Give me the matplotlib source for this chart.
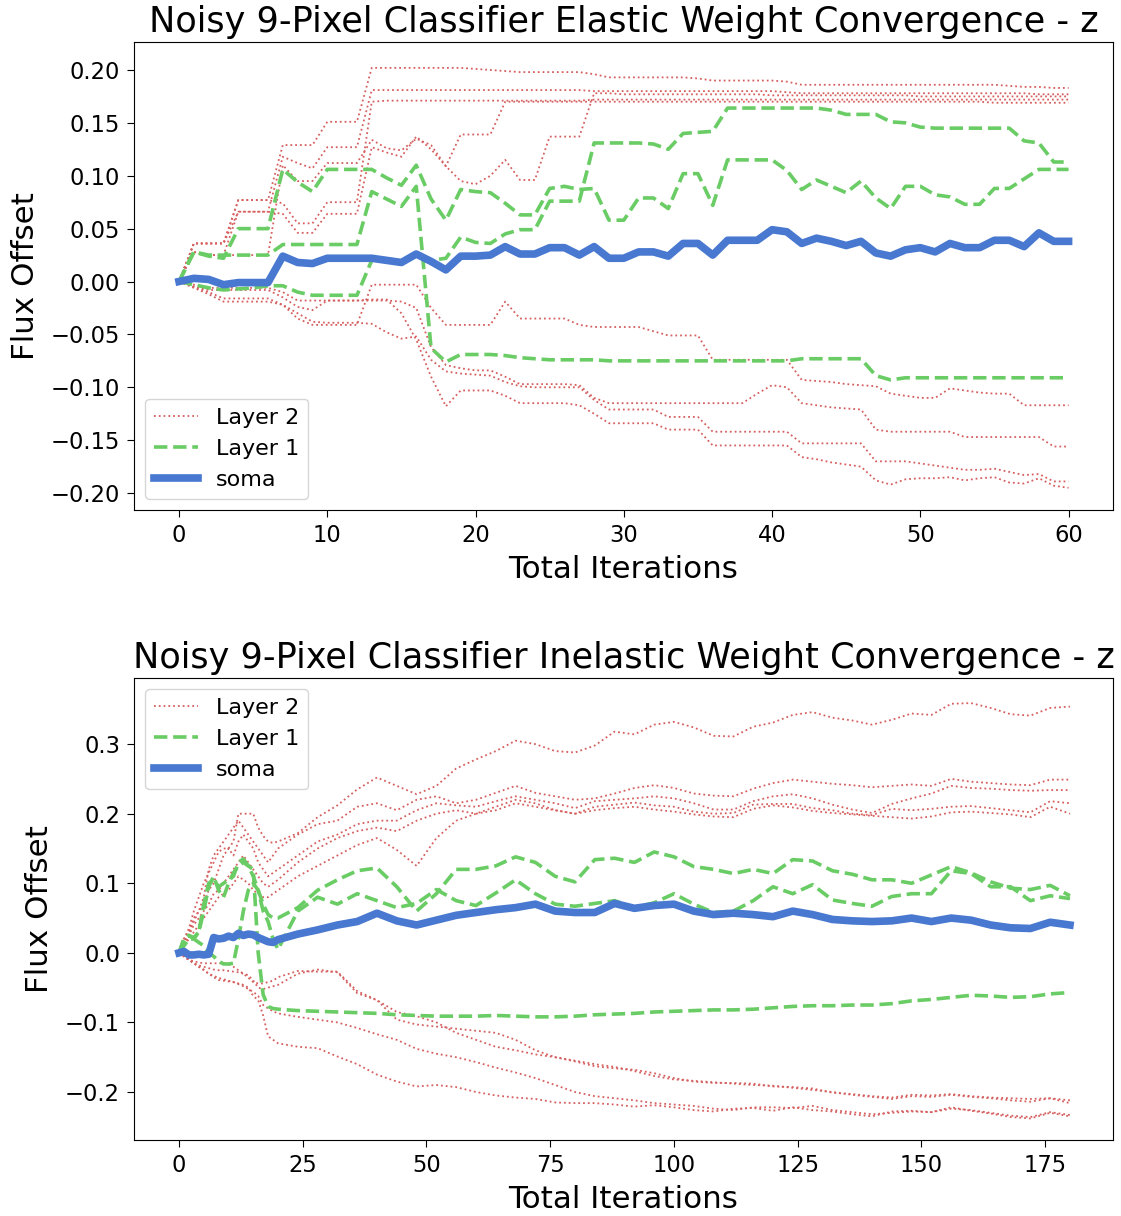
"""
Two-panel weight convergence chart for the noisy 9-pixel classifier.
Top: elastic run (61 iterations), bottom: inelastic run (sampled iterations).
"""

import matplotlib
matplotlib.use("Agg")
import matplotlib.pyplot as plt  # noqa: E402

RED = "#d65f5f"
GREEN = "#6acc64"
BLUE = "#4878d0"

# ---------------- top panel: elastic ----------------
top_iters = list(range(61))

top_soma = [
    0.000, 0.003, 0.002, -0.003, -0.001, -0.001, -0.001, 0.024, 0.018, 0.017,
    0.022, 0.022, 0.022, 0.022, 0.020, 0.018, 0.026, 0.019, 0.011, 0.024,
    0.024, 0.025, 0.033, 0.026, 0.026, 0.032, 0.032, 0.025, 0.033, 0.022,
    0.022, 0.028, 0.028, 0.024, 0.036, 0.036, 0.025, 0.039, 0.039, 0.039,
    0.049, 0.047, 0.036, 0.041, 0.038, 0.034, 0.038, 0.027, 0.024, 0.030,
    0.032, 0.028, 0.036, 0.032, 0.032, 0.039, 0.039, 0.033, 0.046, 0.038, 0.038,
]

top_layer1 = [
    [0.000, 0.028, 0.024, 0.022, 0.050, 0.050, 0.050, 0.106, 0.094, 0.085,
     0.106, 0.106, 0.106, 0.106, 0.098, 0.091, 0.110, 0.078, 0.058, 0.087,
     0.085, 0.084, 0.074, 0.063, 0.063, 0.088, 0.090, 0.087, 0.088, 0.058,
     0.058, 0.079, 0.079, 0.069, 0.102, 0.102, 0.072, 0.115, 0.115, 0.115,
     0.115, 0.105, 0.087, 0.096, 0.090, 0.084, 0.095, 0.079, 0.069, 0.090,
     0.090, 0.082, 0.080, 0.073, 0.073, 0.088, 0.088, 0.097, 0.106, 0.106, 0.106],
    [0.000, 0.028, 0.025, 0.025, 0.025, 0.025, 0.025, 0.035, 0.035, 0.035,
     0.035, 0.035, 0.035, 0.085, 0.078, 0.071, 0.090, -0.063, -0.076, -0.069,
     -0.069, -0.069, -0.070, -0.072, -0.073, -0.074, -0.074, -0.074, -0.074, -0.075,
     -0.075, -0.075, -0.075, -0.075, -0.075, -0.075, -0.075, -0.075, -0.075, -0.075,
     -0.075, -0.075, -0.073, -0.073, -0.073, -0.073, -0.073, -0.089, -0.093, -0.091,
     -0.091, -0.091, -0.091, -0.091, -0.091, -0.091, -0.091, -0.091, -0.091, -0.091, -0.091],
    [0.000, -0.003, -0.006, -0.008, -0.007, -0.006, -0.004, -0.004, -0.010, -0.013,
     -0.013, -0.013, -0.013, 0.020, 0.021, 0.020, 0.024, 0.020, 0.022, 0.042,
     0.037, 0.036, 0.045, 0.049, 0.049, 0.076, 0.076, 0.076, 0.131, 0.131,
     0.131, 0.131, 0.130, 0.125, 0.140, 0.141, 0.142, 0.164, 0.164, 0.164,
     0.164, 0.164, 0.164, 0.164, 0.162, 0.158, 0.158, 0.158, 0.151, 0.150,
     0.146, 0.145, 0.145, 0.145, 0.145, 0.145, 0.145, 0.133, 0.131, 0.113, 0.113],
]

top_layer2 = [
    [0.000, 0.036, 0.036, 0.036, 0.077, 0.077, 0.077, 0.129, 0.129, 0.129,
     0.151, 0.151, 0.151, 0.202, 0.202, 0.202, 0.202, 0.202, 0.202, 0.202,
     0.201, 0.200, 0.199, 0.198, 0.198, 0.198, 0.198, 0.198, 0.196, 0.193,
     0.193, 0.193, 0.193, 0.193, 0.193, 0.192, 0.190, 0.190, 0.190, 0.190,
     0.190, 0.189, 0.186, 0.186, 0.186, 0.186, 0.186, 0.186, 0.186, 0.186,
     0.186, 0.186, 0.186, 0.186, 0.186, 0.186, 0.185, 0.184, 0.184, 0.183, 0.183],
    [0.000, 0.036, 0.036, 0.036, 0.066, 0.066, 0.066, 0.118, 0.112, 0.107,
     0.127, 0.127, 0.127, 0.181, 0.181, 0.181, 0.181, 0.181, 0.181, 0.181,
     0.181, 0.181, 0.181, 0.181, 0.181, 0.181, 0.181, 0.181, 0.180, 0.180,
     0.180, 0.180, 0.180, 0.180, 0.180, 0.180, 0.180, 0.180, 0.180, 0.180,
     0.180, 0.179, 0.178, 0.178, 0.178, 0.178, 0.178, 0.178, 0.178, 0.178,
     0.178, 0.178, 0.178, 0.178, 0.178, 0.178, 0.178, 0.178, 0.177, 0.177, 0.177],
    [0.000, 0.036, 0.036, 0.036, 0.077, 0.077, 0.077, 0.074, 0.055, 0.055,
     0.075, 0.075, 0.075, 0.170, 0.171, 0.171, 0.171, 0.171, 0.171, 0.171,
     0.171, 0.171, 0.171, 0.171, 0.171, 0.171, 0.171, 0.171, 0.172, 0.172,
     0.172, 0.172, 0.172, 0.172, 0.172, 0.172, 0.172, 0.172, 0.172, 0.172,
     0.172, 0.172, 0.172, 0.172, 0.172, 0.172, 0.172, 0.172, 0.172, 0.172,
     0.172, 0.172, 0.172, 0.172, 0.172, 0.172, 0.172, 0.172, 0.172, 0.172, 0.172],
    [0.000, 0.028, 0.025, 0.025, 0.066, 0.066, 0.066, 0.064, 0.046, 0.046,
     0.064, 0.064, 0.064, 0.127, 0.122, 0.118, 0.137, 0.125, 0.109, 0.139,
     0.139, 0.139, 0.170, 0.170, 0.170, 0.170, 0.170, 0.170, 0.170, 0.170,
     0.170, 0.170, 0.170, 0.170, 0.170, 0.170, 0.170, 0.170, 0.170, 0.170,
     0.170, 0.170, 0.170, 0.170, 0.170, 0.170, 0.170, 0.170, 0.170, 0.170,
     0.170, 0.170, 0.170, 0.170, 0.170, 0.169, 0.169, 0.169, 0.169, 0.169, 0.169],
    [0.000, 0.028, 0.025, 0.025, 0.025, 0.025, 0.025, 0.110, 0.095, 0.095,
     0.112, 0.112, 0.112, 0.134, 0.126, 0.124, 0.135, 0.129, 0.109, 0.095,
     0.092, 0.100, 0.115, 0.096, 0.096, 0.137, 0.137, 0.137, 0.178, 0.178,
     0.177, 0.177, 0.177, 0.177, 0.177, 0.177, 0.177, 0.177, 0.177, 0.177,
     0.176, 0.176, 0.176, 0.176, 0.176, 0.176, 0.176, 0.176, 0.176, 0.176,
     0.175, 0.175, 0.175, 0.175, 0.175, 0.175, 0.175, 0.175, 0.175, 0.175, 0.175],
    [0.000, -0.005, -0.010, -0.016, -0.016, -0.016, -0.016, -0.022, -0.035, -0.041,
     -0.041, -0.041, -0.041, -0.003, -0.003, -0.003, -0.003, -0.025, -0.041, -0.041,
     -0.041, -0.041, -0.019, -0.035, -0.035, -0.035, -0.035, -0.041, -0.043, -0.043,
     -0.043, -0.043, -0.047, -0.051, -0.051, -0.051, -0.074, -0.074, -0.074, -0.074,
     -0.074, -0.074, -0.093, -0.094, -0.095, -0.097, -0.098, -0.099, -0.106, -0.108,
     -0.110, -0.110, -0.101, -0.103, -0.105, -0.106, -0.106, -0.117, -0.117, -0.117, -0.117],
    [0.000, -0.005, -0.008, -0.008, -0.008, -0.008, -0.008, -0.015, -0.024, -0.027,
     -0.018, -0.018, -0.018, -0.018, -0.018, -0.019, -0.025, -0.062, -0.079, -0.082,
     -0.084, -0.084, -0.090, -0.097, -0.097, -0.097, -0.097, -0.098, -0.110, -0.115,
     -0.115, -0.115, -0.115, -0.115, -0.115, -0.115, -0.115, -0.115, -0.115, -0.106,
     -0.098, -0.100, -0.115, -0.117, -0.119, -0.120, -0.121, -0.140, -0.142, -0.142,
     -0.142, -0.142, -0.142, -0.147, -0.147, -0.147, -0.147, -0.147, -0.147, -0.156, -0.156],
    [0.000, -0.006, -0.012, -0.019, -0.019, -0.019, -0.019, -0.022, -0.030, -0.038,
     -0.039, -0.039, -0.039, -0.040, -0.048, -0.054, -0.052, -0.074, -0.085, -0.087,
     -0.088, -0.089, -0.095, -0.099, -0.100, -0.100, -0.100, -0.100, -0.112, -0.121,
     -0.121, -0.121, -0.121, -0.128, -0.128, -0.128, -0.142, -0.142, -0.142, -0.142,
     -0.142, -0.142, -0.153, -0.153, -0.153, -0.153, -0.153, -0.170, -0.170, -0.170,
     -0.172, -0.174, -0.176, -0.178, -0.178, -0.177, -0.180, -0.183, -0.182, -0.189, -0.189],
    [0.000, -0.003, -0.006, -0.006, -0.006, -0.006, -0.006, -0.010, -0.018, -0.018,
     -0.018, -0.018, -0.018, -0.017, -0.017, -0.030, -0.055, -0.090, -0.118, -0.103,
     -0.103, -0.103, -0.108, -0.115, -0.115, -0.115, -0.115, -0.117, -0.125, -0.134,
     -0.134, -0.134, -0.134, -0.140, -0.140, -0.140, -0.155, -0.155, -0.155, -0.155,
     -0.155, -0.155, -0.166, -0.168, -0.171, -0.173, -0.175, -0.188, -0.192, -0.187,
     -0.186, -0.186, -0.185, -0.188, -0.186, -0.185, -0.190, -0.191, -0.186, -0.193, -0.195],
]

# ---------------- bottom panel: inelastic ----------------
# every iteration up to 20, then every 4th one
bot_iters = list(range(21)) + list(range(24, 181, 4))

bot_soma = [
    0.000, 0.002, -0.003, -0.003, -0.002, -0.003, -0.002, 0.022, 0.020, 0.021,
    0.024, 0.022, 0.028, 0.025, 0.027, 0.026, 0.022, 0.019, 0.016, 0.015, 0.019,
    0.027, 0.033, 0.040, 0.045, 0.057, 0.046, 0.040, 0.047, 0.054, 0.058,
    0.062, 0.065, 0.070, 0.060, 0.058, 0.058, 0.071, 0.064, 0.068, 0.070,
    0.060, 0.055, 0.057, 0.055, 0.052, 0.060, 0.055, 0.048, 0.046, 0.045,
    0.046, 0.050, 0.045, 0.050, 0.047, 0.040, 0.036, 0.035, 0.044, 0.040,
]

bot_layer1 = [
    [0.000, 0.020, 0.025, 0.022, 0.030, 0.060, 0.095, 0.110, 0.090, 0.080,
     0.100, 0.115, 0.125, 0.130, 0.125, 0.120, 0.000, -0.060, -0.077, -0.080, -0.081,
     -0.083, -0.084, -0.085, -0.086, -0.087, -0.089, -0.090, -0.091, -0.091, -0.091,
     -0.090, -0.091, -0.092, -0.092, -0.091, -0.089, -0.088, -0.087, -0.085, -0.084,
     -0.083, -0.082, -0.082, -0.081, -0.079, -0.077, -0.076, -0.076, -0.075, -0.075,
     -0.073, -0.069, -0.067, -0.064, -0.061, -0.062, -0.064, -0.063, -0.059, -0.057],
    [0.000, 0.020, 0.025, 0.020, 0.030, 0.070, 0.100, 0.105, 0.095, 0.100,
     0.105, 0.110, 0.130, 0.135, 0.125, 0.110, 0.090, 0.070, 0.055, 0.050, 0.050,
     0.065, 0.090, 0.105, 0.118, 0.122, 0.095, 0.060, 0.085, 0.120, 0.120,
     0.125, 0.138, 0.130, 0.110, 0.102, 0.134, 0.136, 0.130, 0.145, 0.138,
     0.124, 0.120, 0.114, 0.120, 0.114, 0.134, 0.132, 0.118, 0.113, 0.105,
     0.105, 0.100, 0.112, 0.124, 0.115, 0.102, 0.093, 0.091, 0.097, 0.082],
    [0.000, 0.010, 0.020, 0.020, 0.015, 0.010, 0.000, -0.005, -0.012, -0.016,
     -0.016, -0.015, 0.020, 0.060, 0.090, 0.100, 0.090, 0.060, 0.045, 0.020, 0.005,
     0.060, 0.080, 0.070, 0.085, 0.075, 0.065, 0.071, 0.091, 0.075, 0.068,
     0.086, 0.105, 0.085, 0.070, 0.067, 0.071, 0.075, 0.065, 0.072, 0.085,
     0.070, 0.058, 0.060, 0.075, 0.095, 0.085, 0.098, 0.076, 0.071, 0.067,
     0.081, 0.085, 0.085, 0.118, 0.114, 0.095, 0.095, 0.075, 0.082, 0.078],
]

bot_layer2 = [
    [0.000, 0.020, 0.035, 0.060, 0.080, 0.100, 0.115, 0.130, 0.145, 0.150,
     0.150, 0.160, 0.200, 0.200, 0.200, 0.200, 0.180, 0.168, 0.160, 0.158, 0.160,
     0.172, 0.195, 0.212, 0.235, 0.252, 0.240, 0.228, 0.240, 0.265, 0.278,
     0.290, 0.305, 0.300, 0.290, 0.288, 0.298, 0.318, 0.314, 0.328, 0.332,
     0.324, 0.312, 0.311, 0.325, 0.331, 0.342, 0.346, 0.338, 0.334, 0.328,
     0.335, 0.344, 0.342, 0.358, 0.359, 0.352, 0.343, 0.341, 0.352, 0.354],
    [0.000, 0.020, 0.030, 0.050, 0.060, 0.080, 0.120, 0.140, 0.150, 0.160,
     0.170, 0.180, 0.190, 0.180, 0.170, 0.160, 0.150, 0.140, 0.130, 0.140, 0.150,
     0.170, 0.185, 0.190, 0.210, 0.215, 0.205, 0.220, 0.225, 0.215, 0.220,
     0.230, 0.240, 0.230, 0.225, 0.220, 0.222, 0.229, 0.237, 0.241, 0.237,
     0.229, 0.226, 0.225, 0.236, 0.244, 0.249, 0.246, 0.243, 0.241, 0.238,
     0.240, 0.242, 0.240, 0.250, 0.246, 0.244, 0.242, 0.241, 0.249, 0.249],
    [0.000, 0.015, 0.030, 0.045, 0.060, 0.070, 0.090, 0.100, 0.120, 0.140,
     0.150, 0.140, 0.160, 0.170, 0.160, 0.150, 0.130, 0.120, 0.110, 0.115, 0.120,
     0.140, 0.160, 0.170, 0.185, 0.190, 0.190, 0.205, 0.215, 0.212, 0.210,
     0.218, 0.225, 0.220, 0.215, 0.208, 0.218, 0.220, 0.222, 0.225, 0.222,
     0.215, 0.206, 0.206, 0.218, 0.225, 0.228, 0.222, 0.213, 0.206, 0.201,
     0.214, 0.222, 0.229, 0.240, 0.237, 0.236, 0.234, 0.233, 0.234, 0.234],
    [0.000, 0.010, 0.025, 0.040, 0.050, 0.060, 0.070, 0.085, 0.090, 0.100,
     0.110, 0.120, 0.130, 0.140, 0.130, 0.120, 0.110, 0.100, 0.095, 0.100, 0.105,
     0.130, 0.150, 0.165, 0.175, 0.180, 0.175, 0.190, 0.200, 0.205, 0.200,
     0.205, 0.215, 0.210, 0.205, 0.200, 0.210, 0.213, 0.216, 0.212, 0.210,
     0.203, 0.200, 0.201, 0.213, 0.214, 0.214, 0.208, 0.205, 0.200, 0.198,
     0.207, 0.205, 0.207, 0.210, 0.211, 0.208, 0.205, 0.202, 0.218, 0.215],
    [0.000, 0.010, 0.020, 0.030, 0.040, 0.050, 0.060, 0.070, 0.080, 0.085,
     0.090, 0.100, 0.110, 0.105, 0.100, 0.090, 0.085, 0.080, 0.080, 0.085, 0.090,
     0.110, 0.125, 0.140, 0.155, 0.165, 0.148, 0.125, 0.165, 0.190, 0.200,
     0.210, 0.220, 0.215, 0.205, 0.200, 0.205, 0.208, 0.210, 0.206, 0.203,
     0.199, 0.196, 0.195, 0.207, 0.212, 0.209, 0.204, 0.201, 0.199, 0.197,
     0.195, 0.193, 0.196, 0.202, 0.203, 0.201, 0.199, 0.195, 0.210, 0.200],
    [0.000, -0.005, -0.010, -0.012, -0.014, -0.015, -0.015, -0.015, -0.015, -0.015,
     -0.016, -0.020, -0.025, -0.030, -0.036, -0.042, -0.044, -0.044, -0.042, -0.040, -0.035,
     -0.026, -0.027, -0.027, -0.055, -0.068, -0.096, -0.103, -0.106, -0.109, -0.112,
     -0.115, -0.125, -0.140, -0.150, -0.156, -0.163, -0.166, -0.168, -0.173, -0.180,
     -0.185, -0.187, -0.187, -0.188, -0.192, -0.193, -0.195, -0.201, -0.203, -0.206,
     -0.208, -0.204, -0.205, -0.203, -0.206, -0.208, -0.209, -0.210, -0.209, -0.212],
    [0.000, -0.005, -0.010, -0.015, -0.020, -0.025, -0.030, -0.033, -0.036, -0.038,
     -0.040, -0.042, -0.045, -0.048, -0.052, -0.056, -0.062, -0.075, -0.080, -0.084, -0.087,
     -0.092, -0.096, -0.100, -0.108, -0.117, -0.125, -0.138, -0.145, -0.150, -0.157,
     -0.165, -0.172, -0.180, -0.190, -0.200, -0.206, -0.209, -0.212, -0.216, -0.218,
     -0.220, -0.224, -0.226, -0.222, -0.222, -0.223, -0.220, -0.226, -0.229, -0.232,
     -0.230, -0.228, -0.229, -0.224, -0.226, -0.230, -0.234, -0.236, -0.229, -0.233],
    [0.000, -0.005, -0.010, -0.015, -0.018, -0.020, -0.022, -0.024, -0.025, -0.025,
     -0.026, -0.027, -0.028, -0.030, -0.032, -0.040, -0.050, -0.052, -0.050, -0.048, -0.046,
     -0.030, -0.024, -0.028, -0.058, -0.068, -0.085, -0.091, -0.100, -0.115, -0.125,
     -0.135, -0.140, -0.146, -0.150, -0.155, -0.160, -0.164, -0.170, -0.177, -0.182,
     -0.184, -0.186, -0.188, -0.190, -0.191, -0.194, -0.197, -0.200, -0.204, -0.207,
     -0.210, -0.206, -0.207, -0.204, -0.207, -0.209, -0.212, -0.214, -0.209, -0.216],
    [0.000, -0.004, -0.010, -0.015, -0.020, -0.024, -0.030, -0.035, -0.039, -0.040,
     -0.041, -0.042, -0.044, -0.046, -0.050, -0.062, -0.068, -0.090, -0.120, -0.125, -0.130,
     -0.135, -0.137, -0.149, -0.160, -0.175, -0.185, -0.192, -0.190, -0.193, -0.200,
     -0.205, -0.208, -0.210, -0.215, -0.216, -0.216, -0.218, -0.221, -0.219, -0.222,
     -0.226, -0.228, -0.224, -0.223, -0.227, -0.222, -0.226, -0.228, -0.232, -0.235,
     -0.228, -0.227, -0.229, -0.222, -0.227, -0.231, -0.236, -0.238, -0.230, -0.235],
]


def draw_panel(ax, iters, layer2, layer1, soma, title, legend_loc):
    for k, ys in enumerate(layer2):
        ax.plot(iters, ys, linestyle=":", color=RED, linewidth=1.3,
                label="Layer 2" if k == 0 else None)
    for k, ys in enumerate(layer1):
        ax.plot(iters, ys, linestyle="--", color=GREEN, linewidth=2.6,
                label="Layer 1" if k == 0 else None)
    ax.plot(iters, soma, color=BLUE, linewidth=5.5, label="soma")

    ax.set_title(title, fontsize=25.3, pad=7)
    ax.set_xlabel("Total Iterations", fontsize=22.3, labelpad=6)
    ax.set_ylabel("Flux Offset", fontsize=22.3, labelpad=8)
    ax.tick_params(labelsize=16.3, length=5, pad=5)
    ax.legend(loc=legend_loc, fontsize=16)


fig = plt.figure(figsize=(11.21, 12.16), dpi=100)
ax_top = fig.add_axes([0.1195, 0.5806, 0.8734, 0.3849])
ax_bot = fig.add_axes([0.1195, 0.0625, 0.8734, 0.3799])

draw_panel(ax_top, top_iters, top_layer2, top_layer1, top_soma,
           "Noisy 9-Pixel Classifier Elastic Weight Convergence - z", "lower left")
ax_top.set_xlim(-3.04, 63.0)
ax_top.set_ylim(-0.216, 0.2265)
ax_top.set_yticks([-0.20, -0.15, -0.10, -0.05, 0.00, 0.05, 0.10, 0.15, 0.20])

draw_panel(ax_bot, bot_iters, bot_layer2, bot_layer1, bot_soma,
           "Noisy 9-Pixel Classifier Inelastic Weight Convergence - z", "upper left")
ax_bot.set_xlim(-9.1, 188.7)
ax_bot.set_ylim(-0.269, 0.395)
ax_bot.set_xticks([0, 25, 50, 75, 100, 125, 150, 175])
ax_bot.set_yticks([-0.2, -0.1, 0.0, 0.1, 0.2, 0.3])

fig.savefig("out.png", dpi=100)
plt.close(fig)
